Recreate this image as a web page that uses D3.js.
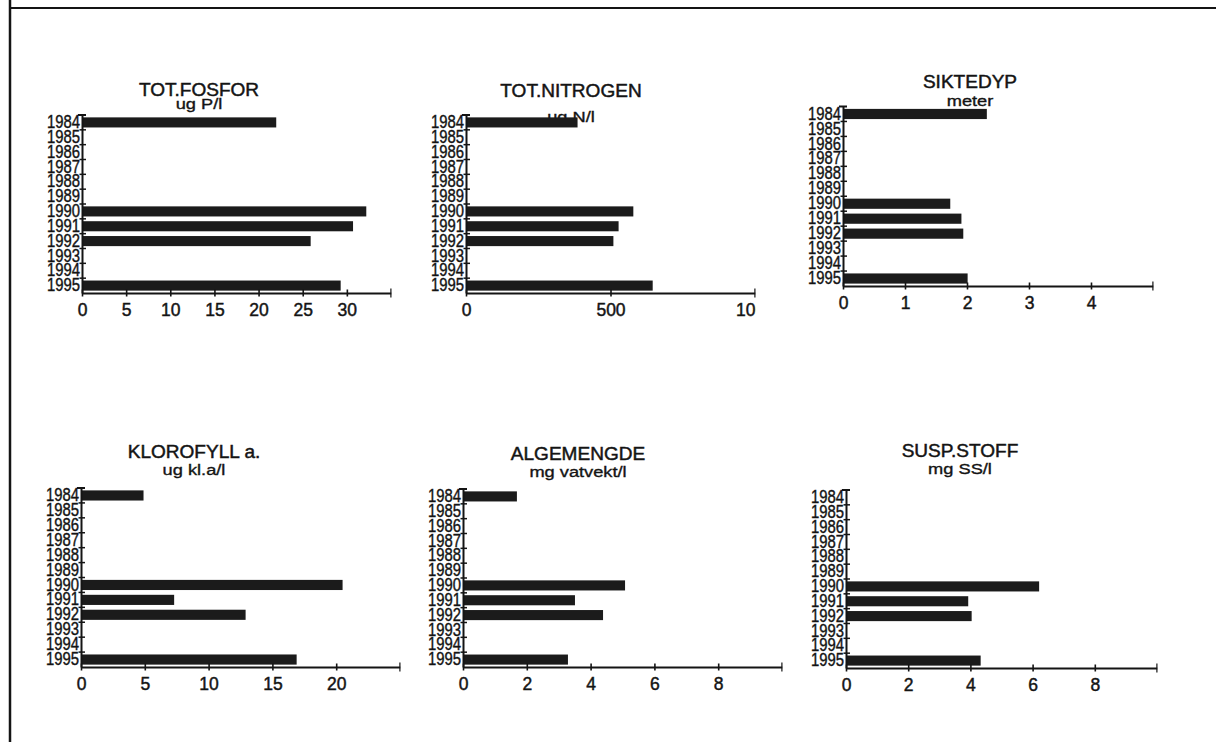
<!DOCTYPE html>
<html>
<head>
<meta charset="utf-8">
<script src="https://cdn.jsdelivr.net/npm/d3@7"></script>
<style>
  html, body { margin: 0; padding: 0; background: #ffffff; }
  svg { display: block; }
  text { font-family: "Liberation Sans", Arial, Helvetica, sans-serif; fill: #141414; }
</style>
</head>
<body>
<svg id="chart" width="1216" height="742"></svg>
<script>
// Sampling years (one row per year, empty where nothing was measured)
const years = ["1984", "1985", "1986", "1987", "1988", "1989",
               "1990", "1991", "1992", "1993", "1994", "1995"];

// Yearly mean values per parameter
const totFosfor   = [22.0, null, null, null, null, null, 32.2, 30.7, 25.9, null, null, 29.3];
const totNitrogen = [386,  null, null, null, null, null, 579,  528,  510,  null, null, 646];
const siktedyp    = [2.32, null, null, null, null, null, 1.73, 1.91, 1.94, null, null, 2.01];
const klorofyll   = [4.9,  null, null, null, null, null, 20.5, 7.3,  12.9, null, null, 16.9];
const algemengde  = [1.69, null, null, null, null, null, 5.08, 3.51, 4.39, null, null, 3.29];
const suspStoff   = [null, null, null, null, null, null, 6.21, 3.93, 4.04, null, null, 4.33];

// Labelled ticks on each value axis, and the axis maximum
const fosforTicks   = [0, 5, 10, 15, 20, 25, 30];
const nitrogenTicks = [0, 500, 1000];
const siktTicks     = [0, 1, 2, 3, 4];
const kloroTicks    = [0, 5, 10, 15, 20];
const algeTicks     = [0, 2, 4, 6, 8];
const suspTicks     = [0, 2, 4, 6, 8];
const axisMax       = [35, 1000, 5, 25, 10, 10];

const titles = ["TOT.FOSFOR", "TOT.NITROGEN", "SIKTEDYP", "KLOROFYLL a.", "ALGEMENGDE", "SUSP.STOFF"];
const units  = ["ug P/l", "ug N/l", "meter", "ug kl.a/l", "mg vatvekt/l", "mg SS/l"];
const series = [totFosfor, totNitrogen, siktedyp, klorofyll, algemengde, suspStoff];
const tickSets = [fosforTicks, nitrogenTicks, siktTicks, kloroTicks, algeTicks, suspTicks];

// Placement of each small panel on the page
const layout = [
  { x0: 82,  x1: 391,  y0: 115,   y1: 293, cx: 199, tY: 96,  uY: 109 },
  { x0: 466, x1: 755,  y0: 115,   y1: 293, cx: 571, tY: 97,  uY: 122 },
  { x0: 843, x1: 1153, y0: 106.5, y1: 286, cx: 970, tY: 88,  uY: 105.5 },
  { x0: 81,  x1: 400,  y0: 488,   y1: 667, cx: 194, tY: 458, uY: 474.5 },
  { x0: 463, x1: 782,  y0: 489,   y1: 667, cx: 578, tY: 460, uY: 476.5 },
  { x0: 846, x1: 1157, y0: 490,   y1: 668, cx: 960, tY: 457, uY: 473.5 }
];

const ink = "#141414";
const svg = d3.select("#chart");
const defs = svg.append("defs");

// Page frame
svg.append("line").attr("x1", 10).attr("x2", 10).attr("y1", 0).attr("y2", 742)
  .attr("stroke", ink).attr("stroke-width", 2.5);
svg.append("line").attr("x1", 9).attr("x2", 1216).attr("y1", 8).attr("y2", 8)
  .attr("stroke", ink).attr("stroke-width", 2);

titles.forEach((title, i) => {
  const L = layout[i];
  const values = series[i];
  const labelled = tickSets[i];
  const max = axisMax[i];
  const g = svg.append("g");

  const x = d3.scaleLinear().domain([0, max]).range([L.x0, L.x1]);
  const y = d3.scaleBand().domain(years).range([L.y0, L.y1])
    .paddingInner(0.32).paddingOuter(0.16);

  // Heading and unit (the lettering is set slightly wide)
  g.append("text").attr("transform", `translate(${L.cx},${L.tY}) scale(1.07,1)`)
    .attr("text-anchor", "middle")
    .attr("font-size", 17.8).attr("stroke", ink).attr("stroke-width", 0.45)
    .text(title);
  g.append("text").attr("transform", `translate(${L.cx},${L.uY}) scale(1.2,1)`)
    .attr("text-anchor", "middle")
    .attr("font-size", 15.2).attr("stroke", ink).attr("stroke-width", 0.35)
    .text(units[i]);

  // Bars
  const rows = years.map((yr, k) => ({ year: yr, value: values[k] }))
    .filter(d => d.value !== null);
  g.selectAll("rect.bar").data(rows).join("rect")
    .attr("class", "bar")
    .attr("x", x(0))
    .attr("y", d => y(d.year))
    .attr("width", d => x(d.value) - x(0))
    .attr("height", y.bandwidth())
    .attr("fill", "#1b1b1b");

  // Value axis
  const clipId = "clip-x-" + i;
  defs.append("clipPath").attr("id", clipId).append("rect")
    .attr("x", L.x0 - 40).attr("y", -20).attr("width", L.x1 + 0.5 - (L.x0 - 40)).attr("height", 60);

  const allTicks = labelled.includes(max) ? labelled : labelled.concat([max]);
  const xAxis = d3.axisBottom(x).tickValues(allTicks)
    .tickSizeInner(3.5).tickSizeOuter(0).tickPadding(7.5)
    .tickFormat(v => labelled.includes(v) ? d3.format("d")(v) : "");
  const gx = g.append("g").attr("transform", `translate(0,${L.y1})`)
    .attr("clip-path", `url(#${clipId})`)
    .call(xAxis)
    .attr("font-size", 17.5).attr("font-family", null);
  gx.select(".domain").attr("stroke", ink).attr("stroke-width", 2);
  gx.selectAll(".tick line").attr("y1", -3.5).attr("y2", 3.5)
    .attr("stroke", ink).attr("stroke-width", 1.6);
  gx.selectAll(".tick").filter(d => d === max).select("line")
    .attr("y1", -4.5).attr("y2", 4.5).attr("stroke-width", 2.4);
  gx.selectAll(".tick text").attr("fill", ink)
    .attr("stroke", ink).attr("stroke-width", 0.45);

  // Year axis
  const yAxis = d3.axisLeft(y).tickSize(0).tickPadding(2);
  const gy = g.append("g").attr("transform", `translate(${L.x0},0)`)
    .call(yAxis)
    .attr("font-size", 17.5).attr("font-family", null);
  gy.select(".domain").attr("stroke", ink).attr("stroke-width", 2);
  gy.selectAll(".tick text").attr("fill", ink)
    .attr("stroke", ink).attr("stroke-width", 0.4)
    .attr("textLength", 33).attr("lengthAdjust", "spacingAndGlyphs");

  // Cap at the top of the year axis and marks between the years
  const step = y.step();
  gy.append("line").attr("x1", -4).attr("x2", 4).attr("y1", L.y0).attr("y2", L.y0)
    .attr("stroke", ink).attr("stroke-width", 2);
  gy.selectAll("line.sep").data(d3.range(1, years.length)).join("line")
    .attr("class", "sep")
    .attr("x1", -2.5).attr("x2", 4)
    .attr("y1", k => L.y0 + k * step).attr("y2", k => L.y0 + k * step)
    .attr("stroke", ink).attr("stroke-width", 1.5);
});
</script>
</body>
</html>
